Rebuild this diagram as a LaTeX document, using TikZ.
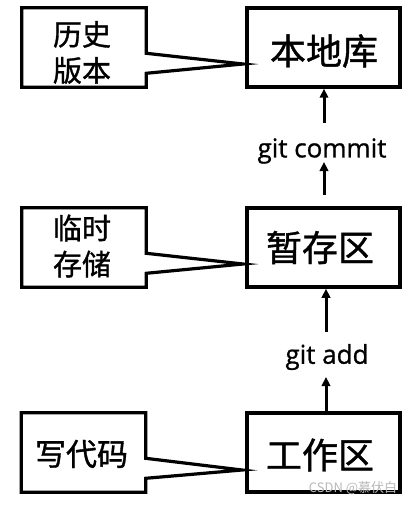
\documentclass[tikz,border=0pt]{standalone}
\usepackage{fontspec}
\setmainfont[FakeBold=0.9]{Open Sans}
\newfontfamily\cjk[FakeBold=1.1]{Noto Sans CJK SC}
\newfontfamily\cjkwm{Noto Sans CJK SC}
\usetikzlibrary{arrows.meta,calc}
\begin{document}
\begin{tikzpicture}[x=1pt,y=-1pt,
  rbox/.style={draw, line width=3.5pt, minimum width=153pt, minimum height=79pt, inner sep=0pt},
  lbox/.style={minimum width=124pt, minimum height=79pt, inner sep=0pt},
  callout/.style={draw, line width=3.2pt, line join=miter},
  big/.style={font=\cjk\fontsize{36}{40}\selectfont, inner sep=0pt},
  small/.style={font=\cjk\fontsize{29}{36}\selectfont, inner sep=0pt, align=center},
  cmd/.style={font=\fontsize{26}{30}\selectfont, inner sep=0pt},
  arr/.style={-{Triangle[length=9pt,width=8.5pt]}, line width=3pt},
]
\useasboundingbox (0,0) rectangle (416,505);

% right boxes
\node[rbox] (R1) at (323.5,47.5) {};
\node[rbox] (R2) at (323.5,247.5) {};
\node[rbox] (R3) at (323.5,452.5) {};
\node[big] (t1) at (324,51) {本地库};
\node[big] (t2) at (320,247.5) {暂存区};
\node[big] (t3) at (320,455) {工作区};

% left callout boxes
\node[lbox] (L1) at (84,47.5) {};
\node[lbox] (L2) at (84,247.5) {};
\node[lbox] (L3) at (83.5,452.5) {};
\coordinate (T1) at (243,64);
\coordinate (T2) at (243,264);
\coordinate (T3) at (242,470);
\foreach \b/\t in {L1/T1, L2/T2, L3/T3}{
  \draw[callout] (\b.north east) -- ++(0,45.5) -- (\t) -- ($(\b.north east)+(0,65.5)$)
    -- (\b.south east) -- (\b.south west) -- (\b.north west) -- cycle;
}
\node[small] (s1) at (82,52.5) {历史\\版本};
\node[small] (s2) at (82,246) {临时\\存储};
\node[small, font=\cjk\fontsize{31}{36}\selectfont] (s3) at (81.5,454) {写代码};

% commands
\node[cmd] (C) at (322,151) {git commit};
\node[cmd] (A) at (327,357) {git add};

% arrows
\coordinate (a1) at (324,123);
\coordinate (a2) at (324,195);
\coordinate (a2t) at (324,162);
\coordinate (a3) at (326,332);
\coordinate (a4t) at (326,377);
\draw[arr] (a1) -- (a1 |- R1.south);
\draw[arr] (a2) -- (a2t);
\draw[arr] (a3) -- (a3 |- R2.south);
\draw[arr] (a4t |- R3.north) -- (a4t);

% watermark
\node[font=\cjkwm\fontsize{13}{15}\selectfont, text=black!28, inner sep=0pt] (wm) at (353,488) {CSDN @慕伏白};
\end{tikzpicture}
\end{document}
